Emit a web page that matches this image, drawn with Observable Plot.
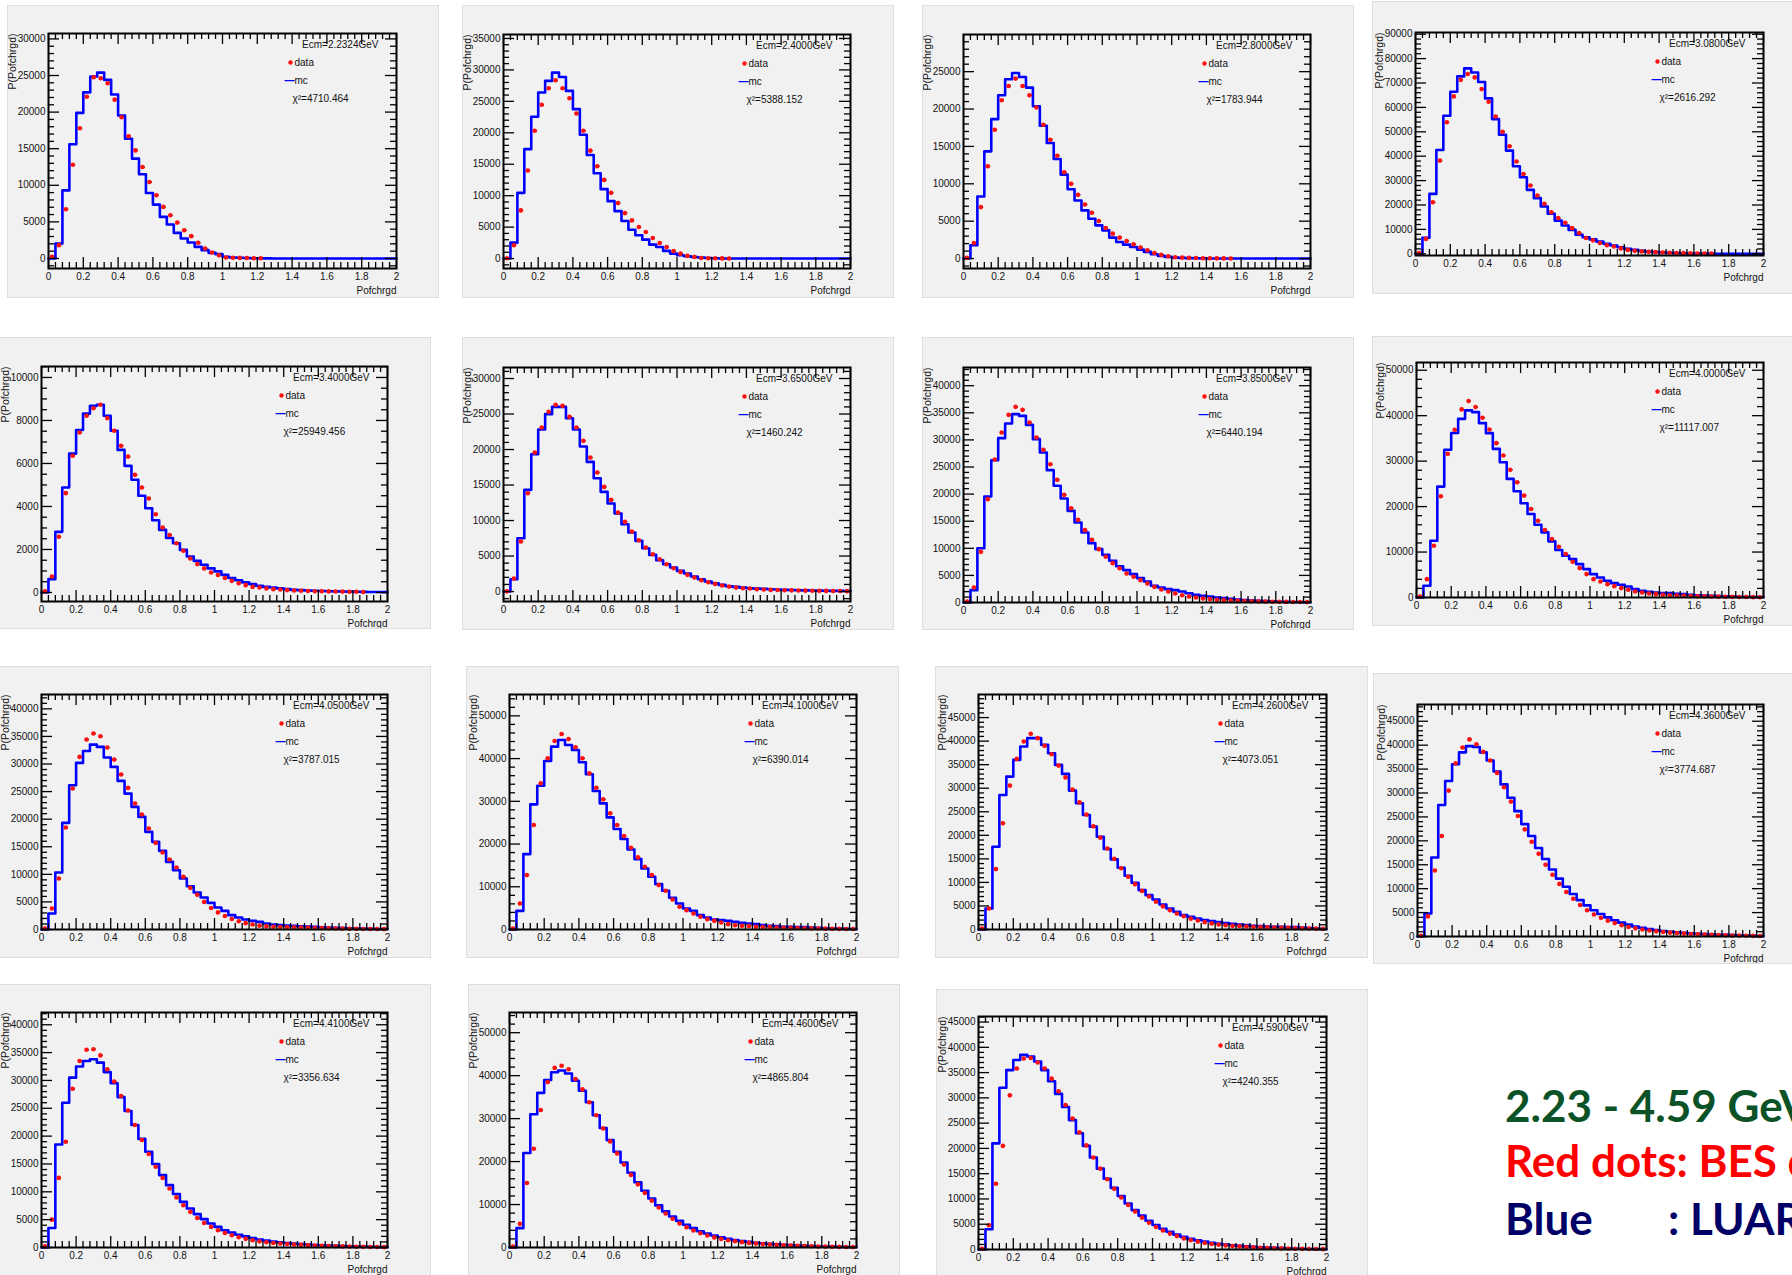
<!DOCTYPE html>
<html><head><meta charset="utf-8">
<script src="https://cdn.jsdelivr.net/npm/d3@7"></script>
<script src="https://cdn.jsdelivr.net/npm/@observablehq/plot@0.6"></script>
<style>
html,body{margin:0;padding:0;background:#fff;}
body{width:1792px;height:1275px;overflow:hidden;position:relative;font-family:"Liberation Sans",Arial,sans-serif;}
.panel{position:absolute;outline:1px solid #dedede;}
.panel svg{display:block;}
.note{position:absolute;font-family:Lato,"Open Sans",sans-serif;font-weight:bold;font-size:44px;line-height:44px;white-space:nowrap;}
</style></head>
<body>
<div id="root"></div>
<div class="note" style="left:1505px;top:1083px;color:#0b5227;">2.23 - 4.59 GeV</div>
<div class="note" style="left:1505px;top:1138px;color:#ff0000;">Red dots: BES data</div>
<div class="note" style="left:1505px;top:1196px;color:#000066;">Blue</div>
<div class="note" style="left:1668px;top:1196px;color:#000066;">: LUARLW</div>
<script>
// ---------- data ----------
const ecm = ["2.2324","2.4000","2.8000","3.0800","3.4000","3.6500","3.8500","4.0000","4.0500","4.1000","4.2600","4.3600","4.4100","4.4600","4.5900"];
const chi2 = ["4710.464","5388.152","1783.944","2616.292","25949.456","1460.242","6440.194","11117.007","3787.015","6390.014","4073.051","3774.687","3356.634","4865.804","4240.355"];
const yLow  = [-1370,-1580,-1330,-700,-420,-1400,0,0,0,0,0,0,0,0,0];
const yHigh = [30740,35630,29970,90700,10510,31550,43360,51700,42600,55000,49900,48500,42200,54700,46100];
const yLabelStep = [5000,5000,5000,10000,2000,5000,5000,10000,5000,10000,5000,5000,5000,10000,5000];
const yMinorStep = [1000,1000,1000,2000,500,1000,1000,2000,1000,2000,1000,1000,1000,2000,1000];
const yLabelTop  = [30000,35000,25000,90000,10000,30000,40000,50000,40000,50000,45000,45000,40000,50000,45000];
const xTickValues = [0,0.2,0.4,0.6,0.8,1,1.2,1.4,1.6,1.8,2];
const binWidth = 0.04, nBins = 50;

const mc01 = [0,2050,9300,15600,19900,22700,24860,25400,24400,22400,19540,16360,13640,11500,8950,7360,5680,4640,3500,2730,2180,1590,1140,770,590,230,140,90,60,40,20,10];
const data01 = [230,1820,6730,12800,17800,22100,24770,24630,23950,21700,19300,16700,14770,12500,10450,8640,7050,5900,4900,3860,3050,2140,1360,820,450,140,100,80,60,40,30];
const mc02 = [0,2530,10450,17400,22540,26400,28250,29570,28880,26660,23760,19690,16470,13570,11040,9130,7550,5970,4590,3700,3010,2220,1850,1220,790,530,370,260,160,100,50,20];
const data02 = [50,2110,7660,14000,20330,24450,27090,28350,27090,25500,23070,20330,17160,14680,12510,10450,8820,7230,6070,5020,4220,3270,2480,1850,1210,790,420,260,100,60,40,30,20];
const mc03 = [0,1780,8300,14340,18650,21850,23980,24820,24290,22870,20380,17760,15450,13320,11230,9280,7770,6440,5330,4440,3770,2800,2220,1860,1550,1200,890,580,360,220,130,90,60,40,20,10];
const data03 = [90,2090,6880,12340,17230,21180,23090,24070,23090,21850,20200,17890,15900,13760,11540,9990,8520,7240,6130,5020,4080,3330,2800,2350,1910,1470,1110,750,490,310,180,130,90,70,50,40,30,20,15];
const mc04 = [0,6550,24550,42550,56600,66400,72700,76000,74300,70400,63700,55200,48800,42300,35900,31400,26200,22800,19400,16400,13600,11600,9800,7800,6800,5900,5000,4100,3400,2700,2000,1600,1200,950,700,550,400,300,200,150,100,80,60,40,30,20,10,10];
const data04 = [270,6100,21100,38200,53900,64500,71300,73700,72300,67500,62300,56300,50000,44100,37800,32700,28000,23900,20500,17000,14700,12700,10500,8500,6500,5500,4400,3500,3000,2200,1600,1200,950,800,680,550,420,330,260,200,150,110,80];
const mc05 = [0,620,2820,4880,6460,7560,8320,8680,8730,8220,7520,6630,5890,5240,4500,3920,3360,2910,2530,2290,1980,1670,1470,1290,1120,980,820,670,570,470,390,310,260,230,190,155,120,110,90,80,70,60,50,45,40,35,30,25,20,15];
const data05 = [50,740,2590,4620,6360,7440,8220,8570,8730,8110,7520,6820,6320,5470,4880,4370,3640,3020,2670,2290,1940,1580,1320,1120,930,810,670,540,430,340,260,230,190,155,140,110,90,80,70,60,55,50,45,40,35,30,25];
const mc06 = [0,1740,7510,14320,19340,22820,24980,26010,26010,24410,22820,20420,18260,15960,14040,12390,10990,9480,8310,7140,6100,5160,4410,3850,3380,2910,2540,2110,1740,1410,1170,940,750,660,560,470,420,380,330,280,230,210,190,170,150,130,110,100,90,80];
const data06 = [30,1830,7040,13850,19580,23100,25310,26290,26150,24600,23100,21220,18870,16760,14740,12910,11130,9810,8450,7230,6200,5260,4550,3850,3290,2770,2350,1970,1600,1310,1080,850,700,560,470,420,330,280,230,210,190,170,150,130,110,100,90,80,70,60];
const mc07 = [0,2280,10020,19560,26260,30320,33030,34750,34440,32780,30140,27680,24420,21530,19190,16910,14760,12920,10950,9840,8790,7690,6700,5970,5230,4490,3870,3080,2770,2460,2280,2030,1720,1410,1230,1110,920,800,680,550,430,370,300,250,200,150,120,100,80,60];
const data07 = [180,2770,9350,19070,26380,31370,34620,36100,35550,33210,30440,28170,25520,22630,19860,17400,15250,13350,11560,9840,8430,7260,6330,5350,4740,4120,3510,2890,2400,2030,1660,1350,1110,920,740,620,490,430,370,320,280,240,200,170,150,130,110,90,80,70];
const mc08 = [0,2570,12500,24400,32500,36200,39300,41160,40790,38370,36160,32700,29770,26090,23370,20730,18380,16020,14330,12350,10440,9190,8450,7350,6250,5150,4410,3680,3160,2790,2430,1840,1470,1250,1100,960,960,810,740,590,510,440,370,300,250,200,150,120,100,80];
const data08 = [220,4040,11390,22270,31600,36900,41380,43220,41900,39540,36970,33960,31240,28080,25360,22420,19480,16900,14850,12860,11170,9560,7860,6470,5150,4040,3530,2940,2500,2060,1690,1320,1100,880,740,590,510,440,370,330,290,250,220,190,160,140,120,100,80,60];
const mc09 = [0,2900,10330,19330,26150,30200,32370,33520,33100,31170,29480,26940,24640,22230,20420,17700,15890,14250,12260,10750,9240,7850,6700,5800,4830,3990,3380,2600,2170,1810,1570,1390,1090,910,790,720,660,600,540,480,420,360,300,260,220,180,150,120,100,80];
const data09 = [180,3800,9240,18480,25550,31290,34430,35520,35030,32980,30800,28090,25670,22830,20840,18300,15700,13950,12680,11230,9540,7550,6300,5000,3900,3100,2450,1900,1500,1150,900,700,560,480,450,420,390,360,320,280,250,220,190,160,140,120,100,90,80,70];
const mc10 = [0,4370,17650,29290,33660,39440,42800,44360,43190,42020,39130,36320,32410,29520,26240,23510,21170,18740,16480,14290,12340,10620,9060,7420,6090,4920,4370,3360,2810,2340,2190,2030,1800,1560,1410,1250,1020,860,780,620,620,550,550,470,390,300,250,200,150,100];
const data10 = [230,6090,12730,24450,34210,40070,44130,45770,44600,42640,40070,36550,33190,30460,27180,24450,21870,19130,16870,14680,12730,10390,9060,7030,5310,4530,3750,2970,2420,2030,1640,1250,1020,860,780,620,550,550,470,420,380,340,300,260,230,200,170,140,120,100];
const mc11 = [0,4470,17580,28570,32470,36020,38850,40630,40630,39210,37440,34950,33040,29490,26800,24320,21840,19710,17090,14890,13120,11410,9930,8370,7300,6380,5320,4470,3760,3050,2690,2340,1990,1770,1560,1350,1210,1060,920,780,710,640,570,570,500,500,430,300,200,100];
const data11 = [210,4470,12830,22550,30560,36230,39920,41550,40630,39000,37200,34800,32300,29700,27000,24400,21900,19500,17200,15000,13000,11200,9600,8200,7000,5900,4900,4100,3400,2800,2300,1900,1560,1300,1080,900,780,710,640,570,500,460,420,380,340,300,260,220,180,140];
const mc12 = [0,4800,16500,27500,32500,36000,38500,39800,39600,38500,36800,34500,31800,29000,26200,23500,21000,18500,16200,14000,12100,10400,8900,7600,6500,5500,4700,4000,3400,2900,2500,2100,1800,1550,1350,1150,1000,870,760,660,580,500,440,380,330,280,230,180,130,80];
const data12 = [150,4200,13800,21000,30500,36200,39500,41200,40200,38600,36800,34200,31200,28200,25200,22400,19800,17300,15000,12900,11000,9300,7900,6600,5500,4600,3900,3300,2800,2350,2000,1700,1450,1250,1080,930,800,700,610,530,460,400,350,300,260,220,190,160,130,100];
const mc13 = [0,3500,18500,26000,30500,32500,33500,33800,33200,31500,29500,27000,24500,22000,19500,17200,15000,13000,11200,9600,8200,7000,6000,5100,4300,3700,3100,2700,2300,2000,1700,1450,1250,1080,930,800,700,610,530,460,400,350,300,260,220,180,150,120,90,60];
const data13 = [200,5000,12500,19000,28500,33500,35500,35600,34500,32000,29800,27200,24600,22000,19300,16800,14500,12500,10600,9000,7600,6400,5300,4400,3700,3100,2600,2200,1850,1550,1300,1100,950,820,710,620,540,470,410,360,310,270,230,200,170,140,120,100,80,60];
const mc14 = [0,4500,22000,31000,36000,39000,40800,41200,40500,38800,36500,33800,30800,27800,25000,22300,19800,17400,15200,13200,11400,9800,8400,7200,6200,5300,4500,3800,3250,2800,2400,2050,1750,1500,1300,1120,970,840,730,630,550,480,410,350,300,250,200,150,110,70];
const data14 = [200,5500,15000,23000,32000,38500,41800,42300,41500,39200,36800,33800,30800,27700,24700,21900,19300,16900,14700,12700,10900,9300,7900,6700,5600,4700,3950,3300,2800,2350,2000,1700,1450,1250,1070,920,800,690,600,520,450,390,340,290,250,210,180,150,120,100];
const mc15 = [0,4000,21000,32000,35500,37500,38500,38200,37200,35500,33300,30800,28200,25600,23000,20500,18200,16000,14000,12200,10600,9100,7800,6700,5700,4850,4100,3500,2950,2500,2100,1800,1550,1320,1130,970,830,710,610,520,450,380,320,270,220,180,140,100,70,40];
const data15 = [150,4800,13000,20500,30500,35800,37800,37900,37000,35800,33800,31300,28600,25900,23200,20600,18200,16000,13900,12000,10300,8800,7500,6300,5300,4450,3750,3150,2650,2200,1850,1550,1300,1100,930,790,670,570,490,420,360,310,260,220,190,160,130,110,90,70];

const mcSeries = [mc01,mc02,mc03,mc04,mc05,mc06,mc07,mc08,mc09,mc10,mc11,mc12,mc13,mc14,mc15];
const dataSeries = [data01,data02,data03,data04,data05,data06,data07,data08,data09,data10,data11,data12,data13,data14,data15];

// ---------- layout (pixel boxes of each ROOT canvas) ----------
const panelBoxes = [
 {left:8,top:6,width:430,height:291,ml:40,mr:42,mt:27,mb:29},
 {left:463,top:6,width:430,height:291,ml:40,mr:43,mt:28,mb:29},
 {left:923,top:6,width:430,height:291,ml:40,mr:43,mt:28,mb:29},
 {left:1373,top:2,width:430,height:291,ml:42,mr:40,mt:30,mb:38},
 {left:0,top:338,width:430,height:290,ml:41,mr:43,mt:28,mb:27},
 {left:463,top:338,width:430,height:291,ml:40,mr:43,mt:29,mb:28},
 {left:923,top:338,width:430,height:291,ml:40,mr:43,mt:29,mb:27},
 {left:1373,top:337,width:430,height:288,ml:43,mr:40,mt:25,mb:28},
 {left:0,top:667,width:430,height:290,ml:41,mr:43,mt:27,mb:28},
 {left:467,top:667,width:431,height:290,ml:42,mr:42,mt:27,mb:28},
 {left:936,top:667,width:431,height:290,ml:42,mr:41,mt:27,mb:28},
 {left:1374,top:674,width:430,height:289,ml:43,mr:41,mt:30,mb:27},
 {left:0,top:985,width:430,height:290,ml:41,mr:43,mt:27,mb:28},
 {left:469,top:985,width:430,height:290,ml:40,mr:43,mt:27,mb:28},
 {left:937,top:990,width:430,height:290,ml:41,mr:41,mt:26,mb:31}
];

const root = document.getElementById("root");
const FONT = "'Liberation Sans', Arial, sans-serif";

function buildPanel(i) {
  const B = panelBoxes[i];
  const y0 = yLow[i], y1 = yHigh[i];
  const fw = B.width - B.ml - B.mr, fh = B.height - B.mt - B.mb;
  const kx = 2 / fw, ky = (y1 - y0) / fh;
  const MAJ = 11, MIN = 6;
  const step = yLabelStep[i], mstep = yMinorStep[i];
  const yMajor = d3.range(0, y1 + 1e-6, step);
  const yMinor = d3.range(Math.ceil(y0 / mstep), Math.floor(y1 / mstep) + 1).map(k => k * mstep).filter(v => v % step !== 0);
  const yLabels = yMajor.filter(v => v <= yLabelTop[i]);
  const xMinor = d3.range(1, nBins).filter(k => k % 5 !== 0).map(k => k * binWidth);

  const mc = mcSeries[i];
  const mcVals = d3.range(nBins).map(k => (k < mc.length ? mc[k] : 0));
  const mcPts = mcVals.map((v, k) => ({x: k * binWidth, y: v}));
  mcPts.push({x: nBins * binWidth, y: mcVals[nBins - 1]});
  const dataPts = dataSeries[i].map((v, k) => ({x: (k + 0.5) * binWidth, y: v}));

  const tickStyle = {stroke: "#000", strokeWidth: 1.3};
  const chart = Plot.plot({
    width: B.width, height: B.height,
    marginLeft: B.ml, marginRight: B.mr, marginTop: B.mt, marginBottom: B.mb,
    x: {domain: [0, 2]},
    y: {domain: [y0, y1]},
    style: {background: "#f1f1f1", fontFamily: FONT, overflow: "visible", color: "#111"},
    marks: [
      Plot.line(mcPts, {x: "x", y: "y", curve: "step-after", stroke: "#0000ff", strokeWidth: 2.6}),
      Plot.ruleY(dataPts, {y: "y", x1: d => d.x, x2: d => d.x + 0.016, stroke: "#000", strokeWidth: 1.6}),
      Plot.dot(dataPts, {x: "x", y: "y", r: 2.3, fill: "#ff1010", stroke: "none"}),
      // x ticks (bottom & top, inward)
      Plot.ruleX(xTickValues, {x: d => d, y1: () => y0, y2: () => y0 + MAJ * ky, ...tickStyle}),
      Plot.ruleX(xMinor, {x: d => d, y1: () => y0, y2: () => y0 + MIN * ky, ...tickStyle}),
      Plot.ruleX(xTickValues, {x: d => d, y1: () => y1, y2: () => y1 - MAJ * ky, ...tickStyle}),
      Plot.ruleX(xMinor, {x: d => d, y1: () => y1, y2: () => y1 - MIN * ky, ...tickStyle}),
      // y ticks (left & right, inward)
      Plot.ruleY(yMajor, {y: d => d, x1: () => 0, x2: () => MAJ * kx, ...tickStyle}),
      Plot.ruleY(yMinor, {y: d => d, x1: () => 0, x2: () => MIN * kx, ...tickStyle}),
      Plot.ruleY(yMajor, {y: d => d, x1: () => 2, x2: () => 2 - MAJ * kx, ...tickStyle}),
      Plot.ruleY(yMinor, {y: d => d, x1: () => 2, x2: () => 2 - MIN * kx, ...tickStyle}),
      Plot.frame({stroke: "#000", strokeWidth: 2}),
      Plot.axisX({ticks: xTickValues, tickSize: 0, tickPadding: 4, tickFormat: d => String(d), label: null, fontSize: 10, fill: "#111"}),
      Plot.axisY({ticks: yLabels, tickSize: 0, tickPadding: 3, tickFormat: d => String(d), label: null, fontSize: 10, fill: "#111"}),
      // titles
      Plot.text(["Pofchrgd"], {frameAnchor: "bottom-right", textAnchor: "end", lineAnchor: "middle", dy: 22, fontSize: 10, fill: "#111"}),
      Plot.text(["P(Pofchrgd)"], {frameAnchor: "top-left", rotate: -90, textAnchor: "end", lineAnchor: "middle", dx: -36, fontSize: 10.5, fill: "#111"}),
      // legend
      Plot.text(["Ecm=" + ecm[i] + "GeV"], {frameAnchor: "top-right", textAnchor: "end", lineAnchor: "middle", dx: -18, dy: 11, fontSize: 10, fill: "#111"}),
      Plot.dot([0], {frameAnchor: "top-right", dx: -106, dy: 29, r: 2.2, fill: "#ff1010"}),
      Plot.text(["data"], {frameAnchor: "top-right", textAnchor: "start", lineAnchor: "middle", dx: -102, dy: 29, fontSize: 10, fill: "#111"}),
      Plot.text(["—"], {frameAnchor: "top-right", textAnchor: "end", lineAnchor: "middle", dx: -102, dy: 47, fontSize: 10, fontWeight: "bold", fill: "#0000ff"}),
      Plot.text(["mc"], {frameAnchor: "top-right", textAnchor: "start", lineAnchor: "middle", dx: -102, dy: 47, fontSize: 10, fill: "#111"}),
      Plot.text(["χ²=" + chi2[i]], {frameAnchor: "top-right", textAnchor: "start", lineAnchor: "middle", dx: -104, dy: 65, fontSize: 10, fill: "#111"})
    ]
  });
  const wrap = document.createElement("div");
  wrap.className = "panel";
  wrap.style.left = B.left + "px";
  wrap.style.top = B.top + "px";
  wrap.style.width = B.width + "px";
  wrap.style.height = B.height + "px";
  wrap.appendChild(chart);
  root.appendChild(wrap);
}

for (let i = 0; i < 15; i++) buildPanel(i);
</script>
</body></html>
